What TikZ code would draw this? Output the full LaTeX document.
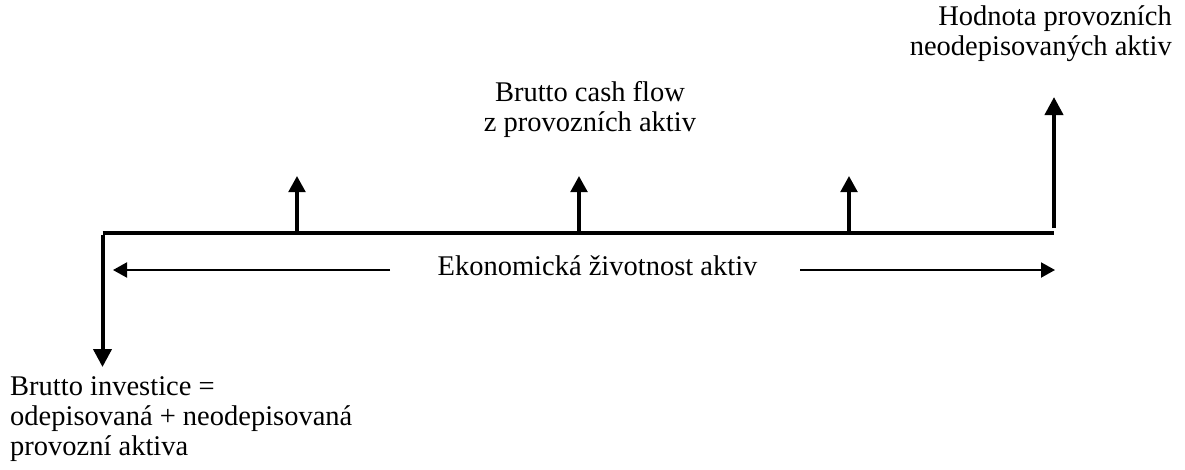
\documentclass[tikz,border=0pt]{standalone}
\usepackage{fontspec}
\setmainfont{Liberation Serif}
\usetikzlibrary{arrows.meta}
\tikzset{
  lbl/.style={inner sep=0pt, font=\fontsize{28.5}{30}\selectfont},
  mainline/.style={line width=4pt},
  bigarrow/.style={line width=4pt, -{Triangle[width=18pt,length=18pt]}},
  smallarrow/.style={line width=3.5pt, -{Triangle[width=16.5pt,length=16pt]}},
  spanarrow/.style={line width=2pt, -{Triangle[width=15pt,length=14pt]}}
}
\begin{document}
\begin{tikzpicture}[x=1pt,y=-1pt]
\useasboundingbox (0,0) rectangle (1185,469);
% time axis
\coordinate (start) at (102.5,233);
\coordinate (end) at (1054,233);
\draw[mainline] (start) -- (end);
% investment (down)
\coordinate (invtip) at (102.5,367);
\draw[bigarrow] ([yshift=-2pt]start) -- (invtip);
% terminal value (up)
\coordinate (tvtip) at (1054,97);
\draw[bigarrow] ([yshift=5pt]end) -- (tvtip);
% cash flows
\coordinate (c1) at (297,233);   \coordinate (c1t) at (297,176);
\coordinate (c2) at (579,233);   \coordinate (c2t) at (579,176);
\coordinate (c3) at (849,233);   \coordinate (c3t) at (849,176);
\draw[smallarrow] (c1) -- (c1t);
\draw[smallarrow] (c2) -- (c2t);
\draw[smallarrow] (c3) -- (c3t);
% labels (base anchor = last line)
\node[lbl, anchor=base east, align=right] (hod) at (1172,55) {Hodnota provozních\\neodepisovaných aktiv};
\node[lbl, anchor=base, align=center] (bcf) at (590,131) {Brutto cash flow\\z provozních aktiv};
\node[lbl, anchor=base] (eko) at (597.5,275) {Ekonomická životnost aktiv};
\node[lbl, anchor=base west, align=left] (bi) at (10,455) {Brutto investice =\\odepisovaná + neodepisovaná\\provozní aktiva};
% life span arrows
\coordinate (lsl) at (390,270); \coordinate (lslt) at (113,270);
\coordinate (lsr) at (800,270); \coordinate (lsrt) at (1055,270);
\draw[spanarrow] (lsl) -- (lslt);
\draw[spanarrow] (lsr) -- (lsrt);
\end{tikzpicture}
\end{document}
